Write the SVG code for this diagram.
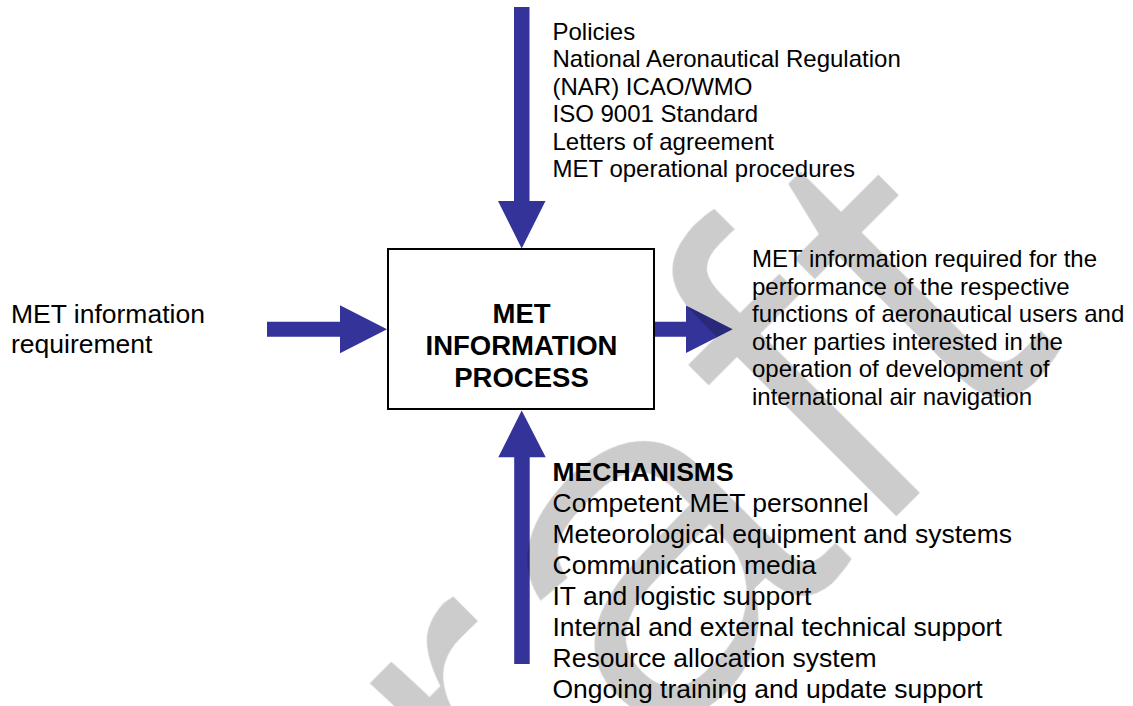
<svg xmlns="http://www.w3.org/2000/svg" width="1133" height="706" viewBox="0 0 1133 706">
<style>
.arrow{fill:#333399;stroke:none}
.lbl{font-family:"Liberation Sans",Arial,sans-serif;fill:#000}
.s24{font-size:24px}
.s26{font-size:26.5px}
.b{font-weight:bold}
.wm{font-family:"Liberation Sans",Arial,sans-serif;font-size:485px;fill:#000;fill-opacity:0.2}
</style>
<defs>
<filter id="thin" x="-10%" y="-30%" width="120%" height="160%">
<feMorphology operator="erode" radius="6 1"/>
</filter>
</defs>
<rect x="0" y="0" width="1133" height="706" fill="#fff"/>
<g id="connectors">
<polygon class="arrow" points="514,7 529.5,7 529.5,201 545.5,201 521.7,248.5 498,201 514,201"/>
<polygon class="arrow" points="267,321.7 340,321.7 340,305.2 387,329.2 340,353.2 340,336.7 267,336.7"/>
<polygon class="arrow" points="655,321.7 686,321.7 686,305.5 732.7,329.2 686,353 686,336.7 655,336.7"/>
<polygon class="arrow" points="521.7,410.5 545.7,457.3 529.7,457.3 529.7,664 514.2,664 514.2,457.3 498.3,457.3"/>
</g>
<g id="process">
<rect x="388" y="249" width="266" height="160" fill="#fff" stroke="#000" stroke-width="2"/>
<text class="lbl b" font-size="27.5" text-anchor="middle"><tspan x="521.5" y="322.7">MET</tspan><tspan x="521.5" y="355">INFORMATION</tspan><tspan x="521.5" y="387.3">PROCESS</tspan></text>
</g>
<g id="watermark">
<text class="wm" filter="url(#thin)" transform="translate(245,1169) rotate(-45) scale(1.11,1)">Draft</text>
</g>
<g id="input">
<text class="lbl s26"><tspan x="11" y="322.5">MET information</tspan><tspan x="11" y="352.5">requirement</tspan></text>
</g>
<g id="controls">
<text class="lbl s24"><tspan x="552.5" y="40">Policies</tspan><tspan x="552.5" y="67.4">National Aeronautical Regulation</tspan><tspan x="552.5" y="94.8">(NAR) ICAO/WMO</tspan><tspan x="552.5" y="122.2">ISO 9001 Standard</tspan><tspan x="552.5" y="149.6">Letters of agreement</tspan><tspan x="552.5" y="177">MET operational procedures</tspan></text>
</g>
<g id="output">
<text class="lbl s24"><tspan x="752" y="267">MET information required for the</tspan><tspan x="752" y="294.5">performance of the respective</tspan><tspan x="752" y="322">functions of aeronautical users and</tspan><tspan x="752" y="349.5">other parties interested in the</tspan><tspan x="752" y="377">operation of development of</tspan><tspan x="752" y="404.5">international air navigation</tspan></text>
</g>
<g id="mechanisms">
<text class="lbl s26"><tspan class="b" x="552.5" y="480.5">MECHANISMS</tspan><tspan x="552.5" y="511.5">Competent MET personnel</tspan><tspan x="552.5" y="542.5">Meteorological equipment and systems</tspan><tspan x="552.5" y="573.5">Communication media</tspan><tspan x="552.5" y="604.5">IT and logistic support</tspan><tspan x="552.5" y="635.5">Internal and external technical support</tspan><tspan x="552.5" y="666.5">Resource allocation system</tspan><tspan x="552.5" y="697.5">Ongoing training and update support</tspan></text>
</g>
</svg>
